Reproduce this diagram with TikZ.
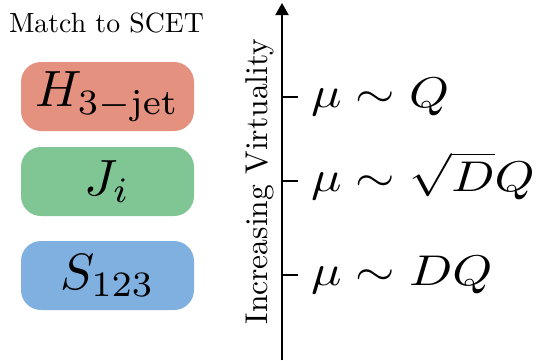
\documentclass[tikz,border=0pt]{standalone}
\usetikzlibrary{arrows.meta}
\definecolor{hred}{RGB}{228,145,128}
\definecolor{jgreen}{RGB}{128,197,148}
\definecolor{sblue}{RGB}{128,176,224}
\begin{document}
\begin{tikzpicture}[x=1pt,y=-1pt,
  fbox/.style={rounded corners=20pt, minimum width=173pt, minimum height=69pt, inner sep=0pt},
  boxtext/.style={inner sep=0pt, scale=5.1},
  scalelab/.style={anchor=base west, inner sep=0pt, xscale=5.07, yscale=4.3},
  ticksty/.style={line width=2pt},
  axissty/.style={line width=2pt, -{Triangle[width=13pt,length=12pt]}},
  ]
\useasboundingbox (0,0) rectangle (538,360);
\node[anchor=base, inner sep=0pt, scale=2.78] (title) at (106.5,32) {Match to SCET};
\node[fbox, fill=hred] (H) at (107.5,96.5) {};
\node[fbox, fill=jgreen] (J) at (107.5,181.5) {};
\node[fbox, fill=sblue] (S) at (107.5,275.5) {};
\node[boxtext] (Ht) at (H.center) {$H_{3-\mathrm{jet}}$};
\node[boxtext] (Jt) at (J.center) {$J_i$};
\node[boxtext] (St) at (S.center) {$S_{123}$};
\coordinate (axb) at (282,360);
\coordinate (axt) at (282,3);
\draw[axissty] (axb) -- (axt);
\node[anchor=base, rotate=90, inner sep=0pt, scale=3.15] (iv) at (267,181.5) {Increasing Virtuality};
\coordinate (t1) at (282,97);
\coordinate (t1e) at (298,97);
\coordinate (t2) at (282,181);
\coordinate (t2e) at (298,181);
\coordinate (t3) at (282,275);
\coordinate (t3e) at (298,275);
\draw[ticksty] (t1) -- (t1e);
\draw[ticksty] (t2) -- (t2e);
\draw[ticksty] (t3) -- (t3e);
\node[scalelab] (l1) at (310,107.75) {$\mu\sim Q$};
\node[scalelab] (l2) at (310,191.75) {$\mu\sim \sqrt{D}Q$};
\node[scalelab] (l3) at (310,285.75) {$\mu\sim DQ$};
\end{tikzpicture}
\end{document}
